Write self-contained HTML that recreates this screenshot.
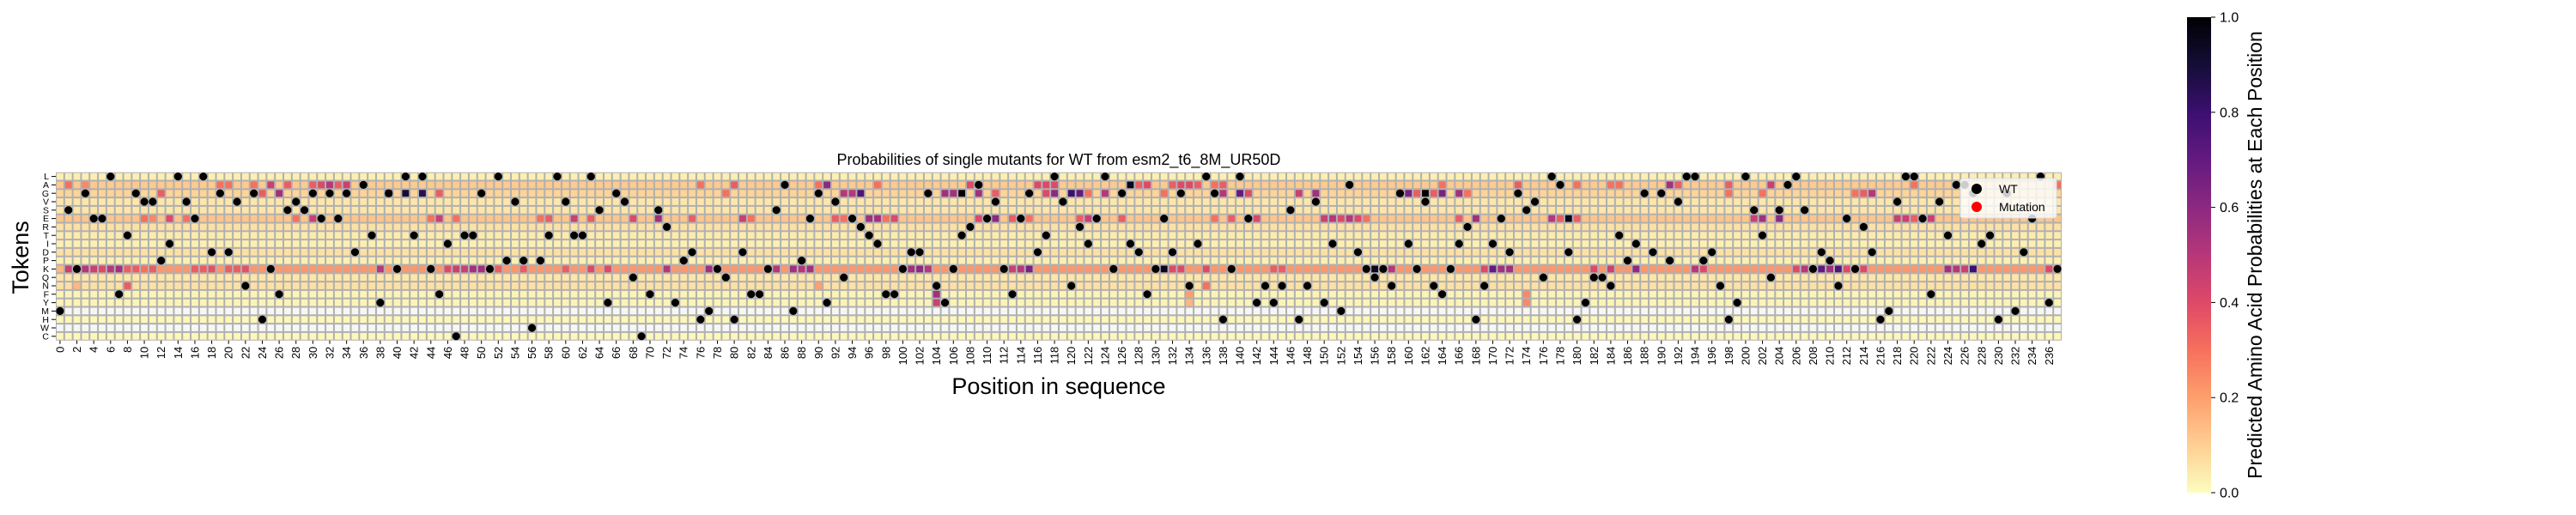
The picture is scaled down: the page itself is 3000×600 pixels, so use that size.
<!DOCTYPE html>
<html><head><meta charset="utf-8"><title>Probabilities of single mutants</title>
<style>html,body{margin:0;padding:0;background:#fff;}svg{display:block;font-family:"Liberation Sans","DejaVu Sans",sans-serif;}</style>
</head><body>
<svg id="chart" width="3000" height="600" viewBox="0 0 3000 600" xmlns="http://www.w3.org/2000/svg">
<text x="1233" y="192" font-size="18" text-anchor="middle">Probabilities of single mutants for WT from esm2_t6_8M_UR50D</text>
<g id="heat"></g>
<g id="yaxis"></g>
<g id="xaxis"></g>
<text transform="translate(33,300) rotate(-90)" font-size="27" text-anchor="middle">Tokens</text>
<text x="1233" y="459" font-size="27" text-anchor="middle">Position in sequence</text>
<g id="legend">
<rect x="2283" y="208" width="112" height="46" rx="3" fill="#fff" fill-opacity="0.8" stroke="#ddd" stroke-width="1"/>
<circle cx="2302" cy="220" r="6" fill="#000"/>
<text x="2328" y="225" font-size="14">WT</text>
<circle cx="2302" cy="241" r="6" fill="#ff0000"/>
<text x="2328" y="246" font-size="14">Mutation</text>
</g>
<defs><linearGradient id="cbg" x1="0" y1="1" x2="0" y2="0">
<stop offset="0" stop-color="#fcfdbf"/><stop offset="0.1" stop-color="#fecf92"/><stop offset="0.2" stop-color="#fe9f6d"/><stop offset="0.3" stop-color="#f7705c"/><stop offset="0.4" stop-color="#de4968"/><stop offset="0.5" stop-color="#b73779"/><stop offset="0.6" stop-color="#8c2981"/><stop offset="0.7" stop-color="#641a80"/><stop offset="0.8" stop-color="#3b0f70"/><stop offset="0.9" stop-color="#140e36"/><stop offset="1" stop-color="#000004"/>
</linearGradient></defs>
<rect x="2547" y="20" width="28" height="554" fill="url(#cbg)"/>
<g id="cbaxis"></g>
<text transform="translate(2634,297) rotate(-90)" font-size="23" text-anchor="middle">Predicted Amino Acid Probabilities at Each Position</text>
</svg>
<script>
const tokens = ["L","A","G","V","S","E","R","T","I","D","P","K","Q","N","F","Y","M","H","W","C"];
const wtSequence = "MSKGEELFTGVVPILVELDGDVNGHKFSVSGEGEGDATYGKLTLKFICTTGKLPVPWPTLVTTLSYGVQCFSRYPDHMKQHDFFKSAMPEGYVQERTIFFKDDGNYKTRAEVKFEGDTLVNRIELKGIDFKEDGNILGHKLEYNYNSHNVYIMADKQKNGIKVNFKIRHNIEDGSVQLADHYQQNTPIGDGPVLLPDNHYLSTQSALSKDPNEKRDHMVLLEFVTAAGITHGMDELYK";
const rowBase = [0.03,0.11,0.09,0.05,0.05,0.12,0.06,0.04,0.03,0.06,0.03,0.22,0.05,0.06,0.02,0.02,0,0.012,0,0.012];
const highlightA = [[1,0.3],[3,0.25],[19,0.3],[20,0.3],[23,0.3],[25,0.45],[27,0.35],[30,0.35],[31,0.4],[32,0.5],[33,0.35],[34,0.45],[76,0.3],[80,0.35],[90,0.3],[91,0.6],[97,0.3],[108,0.4],[116,0.4],[117,0.4],[118,0.4],[127,0.95],[128,0.35],[129,0.4],[132,0.35],[133,0.4],[134,0.4],[135,0.35],[137,0.3],[138,0.35],[164,0.3],[173,0.35],[180,0.3],[184,0.3],[185,0.3],[191,0.55],[192,0.35],[198,0.35],[203,0.45],[220,0.3],[237,0.3]];
const highlightG = [[12,0.35],[24,0.35],[26,0.55],[39,0.7],[41,0.9],[43,0.85],[45,0.35],[79,0.3],[93,0.5],[94,0.5],[95,0.75],[105,0.55],[106,0.55],[107,1.0],[109,0.55],[111,0.35],[117,0.4],[118,0.6],[120,0.8],[121,0.7],[122,0.3],[124,0.5],[131,0.3],[138,0.5],[140,0.7],[141,0.4],[147,0.45],[149,0.55],[159,0.3],[160,0.65],[161,0.35],[162,1.0],[163,0.35],[164,0.65],[166,0.55],[167,0.3],[198,0.3],[202,0.3],[213,0.3],[214,0.35],[215,0.5]];
const highlightE = [[10,0.3],[11,0.25],[13,0.4],[15,0.3],[28,0.3],[30,0.45],[44,0.3],[45,0.45],[47,0.3],[57,0.3],[58,0.35],[61,0.45],[63,0.35],[68,0.4],[71,0.55],[75,0.35],[81,0.45],[82,0.3],[92,0.35],[93,0.3],[96,0.55],[97,0.55],[98,0.3],[99,0.4],[109,0.4],[111,0.6],[113,0.35],[115,0.3],[121,0.35],[122,0.45],[126,0.35],[137,0.3],[139,0.35],[142,0.4],[150,0.45],[151,0.5],[152,0.4],[153,0.5],[154,0.4],[155,0.3],[166,0.35],[168,0.55],[177,0.5],[178,0.35],[179,0.95],[180,0.35],[201,0.45],[202,0.55],[204,0.6],[218,0.45],[219,0.45],[220,0.35],[222,0.45]];
const highlightK = [[0,0.15],[1,0.45],[3,0.5],[4,0.45],[5,0.4],[6,0.5],[7,0.55],[8,0.35],[9,0.35],[10,0.3],[11,0.35],[16,0.35],[17,0.35],[18,0.38],[20,0.35],[21,0.35],[22,0.38],[38,0.5],[46,0.4],[47,0.45],[48,0.45],[49,0.55],[50,0.55],[52,0.35],[55,0.35],[60,0.35],[63,0.4],[65,0.4],[72,0.5],[77,0.55],[85,0.5],[87,0.55],[88,0.5],[89,0.55],[101,0.55],[102,0.6],[103,0.5],[113,0.45],[114,0.5],[115,0.65],[131,0.95],[132,0.4],[133,0.4],[136,0.4],[144,0.35],[145,0.35],[156,0.95],[158,0.5],[169,0.4],[170,0.7],[171,0.55],[172,0.55],[182,0.4],[184,0.45],[187,0.6],[194,0.5],[195,0.4],[206,0.4],[207,0.5],[209,0.7],[210,0.55],[211,0.75],[212,0.4],[214,0.4],[224,0.55],[225,0.5],[226,0.45],[227,0.8],[236,0.4]];
const highlightOther = [[8,"N",0.35],[2,"N",0.15],[90,"N",0.2],[136,"N",0.3],[104,"F",0.55],[104,"Y",0.45],[134,"F",0.2],[134,"Y",0.15],[174,"F",0.25],[174,"Y",0.25]];
const cbTicks = [0,0.2,0.4,0.6,0.8,1.0];

const NS="http://www.w3.org/2000/svg";
const X0=65, Y0=200.7, CW=2336/238, RH=196/20;
const xPos=c=>X0+CW*c, yPos=r=>Y0+RH*r;
const cbY=v=>574-554*v;
const stops=["#fcfdbf","#fecf92","#fe9f6d","#f7705c","#de4968","#b73779","#8c2981","#641a80","#3b0f70","#140e36","#000004"];
function hx(h){return [1,3,5].map(i=>parseInt(h.substr(i,2),16));}
function color(v){if(v<=0.005)return "#f6f6f6";v=Math.min(1,v);const t=v*10,i=Math.min(9,Math.floor(t)),f=t-i;const a=hx(stops[i]),b=hx(stops[i+1]);return "rgb("+a.map((x,k)=>Math.round(x+(b[k]-x)*f)).join(",")+")";}
function mk(tag,attrs,parent){const e=document.createElementNS(NS,tag);for(const k in attrs)e.setAttribute(k,attrs[k]);parent.appendChild(e);return e;}

const nC=wtSequence.length,nR=tokens.length;
const M=[];for(let r=0;r<nR;r++){M.push(new Array(nC).fill(rowBase[r]));}
highlightA.forEach(([c,v])=>M[1][c]=v);
highlightG.forEach(([c,v])=>M[2][c]=v);
highlightE.forEach(([c,v])=>M[5][c]=v);
highlightK.forEach(([c,v])=>M[11][c]=v);
highlightOther.forEach(([c,t,v])=>M[tokens.indexOf(t)][c]=v);

const heat=document.getElementById('heat');
const bg=mk('rect',{x:X0,y:Y0,width:CW*nC,height:RH*nR,fill:'#b0b0b0'},heat);


for(let r=0;r<nR;r++)for(let c=0;c<nC;c++){
  const e=mk('rect',{x:(xPos(c)+1).toFixed(2),y:(yPos(r)+1).toFixed(2),width:(CW-2).toFixed(2),height:(RH-2).toFixed(2),fill:color(M[r][c])},heat);
  
  
}
for(let c=0;c<nC;c++){
  const r=tokens.indexOf(wtSequence[c]);
  const d=mk('circle',{cx:(xPos(c)+CW/2).toFixed(2),cy:(yPos(r)+RH/2).toFixed(2),r:4.6,fill:'#000'},heat);
  
  
}
const ya=document.getElementById('yaxis');
tokens.forEach((t,r)=>{const y=yPos(r)+RH/2;
  const tk=mk('line',{x1:X0-5,x2:X0,y1:y,y2:y,stroke:'#000','stroke-width':1},ya);
  
  
  const tx=mk('text',{x:X0-8,y:y+3.6,'font-size':10.5,'text-anchor':'end'},ya);tx.textContent=t;
  
  
});
const xa=document.getElementById('xaxis');
const yb=Y0+RH*nR;
for(let c=0;c<nC;c+=2){const x=xPos(c)+CW/2;
  const tk=mk('line',{x1:x,x2:x,y1:yb,y2:yb+4,stroke:'#000','stroke-width':1},xa);
  
  
  const tx=mk('text',{transform:`translate(${(x+4.5).toFixed(2)},${yb+7}) rotate(-90)`,'font-size':13,'text-anchor':'end'},xa);tx.textContent=String(c);
  
  
}
heat.parentNode.appendChild(document.getElementById('legend'));
const cba=document.getElementById('cbaxis');
cbTicks.forEach(v=>{const y=cbY(v);
  const tk=mk('line',{x1:2575,x2:2580,y1:y,y2:y,stroke:'#000','stroke-width':1},cba);
  
  
  const tx=mk('text',{x:2585,y:y+5.5,'font-size':16},cba);tx.textContent=v.toFixed(1);
  
  
});
</script>
</body></html>
